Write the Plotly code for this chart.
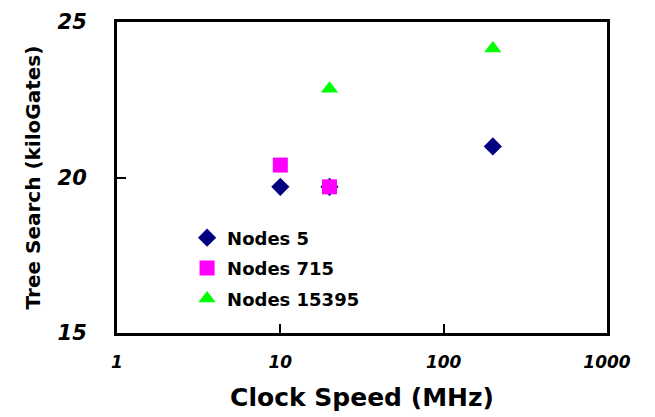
import plotly.graph_objects as go

nodes5_x = [10, 20, 200]
nodes5_y = [19.7, 19.7, 21.0]
nodes715_x = [10, 20]
nodes715_y = [20.4, 19.7]
nodes15395_x = [20, 200]
nodes15395_y = [22.85, 24.15]

series_names = ["Nodes 5", "Nodes 715", "Nodes 15395"]
x_tick_vals = [1, 10, 100, 1000]
x_tick_text = ["1", "10", "100", "1000"]
y_tick_vals = [15, 20, 25]

FONT = "DejaVu Sans"

fig = go.Figure()
fig.add_trace(go.Scatter(x=nodes5_x, y=nodes5_y, mode="markers", name=series_names[0],
                         legendgroup="a",
                         marker=dict(symbol="diamond", size=14, color="#000080")))
fig.add_trace(go.Scatter(x=nodes715_x, y=nodes715_y, mode="markers", name=series_names[1],
                         legendgroup="b",
                         marker=dict(symbol="square", size=15, color="#FF00FF")))
fig.add_trace(go.Scatter(x=nodes15395_x, y=nodes15395_y, mode="markers", name=series_names[2],
                         legendgroup="c",
                         marker=dict(symbol="triangle-up", size=15, color="#00FF00")))

fig.update_layout(
    width=655, height=417,
    margin=dict(l=109, r=56, t=14, b=92, autoexpand=False),
    paper_bgcolor="white", plot_bgcolor="white",
    font=dict(family=FONT, color="black"),
    showlegend=True,
    legend=dict(x=0.143, y=0.365, xanchor="left", yanchor="top",
                bgcolor="rgba(0,0,0,0)", borderwidth=0,
                tracegroupgap=4,
                font=dict(family=FONT, size=18, color="black", weight="bold")),
    xaxis=dict(type="log", range=[0, 3], tickvals=x_tick_vals, ticktext=x_tick_text,
               automargin=False, ticklabeloverflow="allow",
               showgrid=False, zeroline=False,
               showline=True, linewidth=3, linecolor="black", mirror=True,
               ticks="inside", ticklen=9, tickwidth=2, tickcolor="black",
               ticklabelstandoff=12,
               tickfont=dict(family=FONT, size=17, style="italic", weight="bold"),
               title=dict(text="Clock Speed (MHz)", standoff=18,
                          font=dict(family=FONT, size=25, weight="bold"))),
    yaxis=dict(range=[15, 25], tickvals=y_tick_vals,
               automargin=False, ticklabeloverflow="allow",
               showgrid=False, zeroline=False,
               showline=True, linewidth=3, linecolor="black", mirror=True,
               ticks="inside", ticklen=9, tickwidth=2, tickcolor="black",
               ticklabelstandoff=23,
               tickfont=dict(family=FONT, size=21, style="italic", weight="bold"),
               title=dict(text="Tree Search (kiloGates)", standoff=12,
                          font=dict(family=FONT, size=20, weight="bold"))),
)

fig.write_html("out.html")
